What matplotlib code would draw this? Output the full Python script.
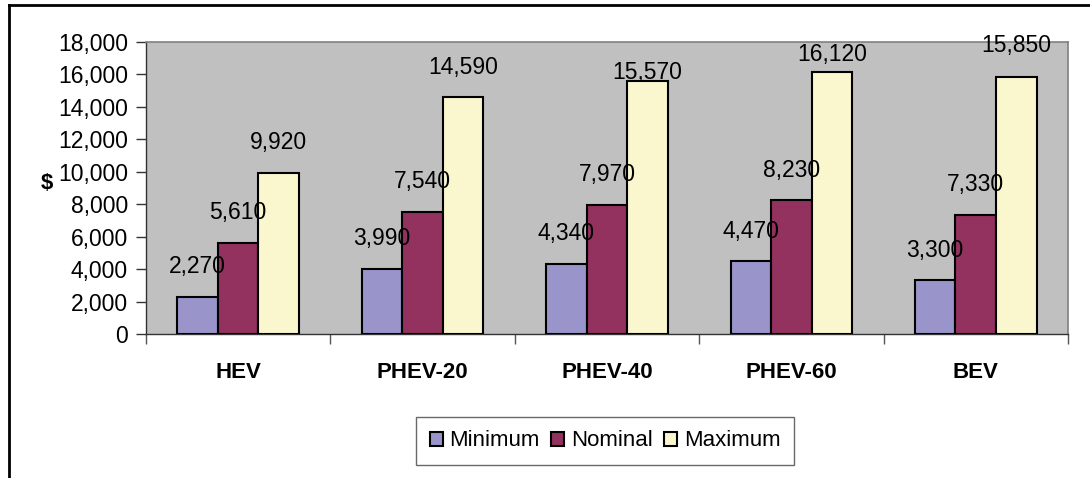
import matplotlib
matplotlib.use("Agg")
from matplotlib import pyplot as plt
from matplotlib.lines import Line2D
from matplotlib.ticker import FuncFormatter
import numpy as np

plt.rcParams['font.family'] = ['Liberation Sans', 'DejaVu Sans']

# data
categories = ['HEV', 'PHEV-20', 'PHEV-40', 'PHEV-60', 'BEV']
minimum = [2270, 3990, 4340, 4470, 3300]
nominal = [5610, 7540, 7970, 8230, 7330]
maximum = [9920, 14590, 15570, 16120, 15850]
series_names = ['Minimum', 'Nominal', 'Maximum']
colors = ['#9995CA', '#93315F', '#FAF7CF']

# label gap above bars (points); the Excel original squeezes a couple of the tall ones
label_gap = [[13.5] * 5, [13.5] * 5, [13.5, 13.5, -2, 4.5, 14]]

fig = plt.figure(figsize=(10.9, 4.78), dpi=100)
ax = fig.add_axes([0.1339, 0.3013, 0.8459, 0.6109])
ax.set_facecolor('#C0C0C0')

x = np.arange(len(categories))
w = 0.22
for i, (vals, name, c) in enumerate(zip([minimum, nominal, maximum], series_names, colors)):
    pos = x + (i - 1) * w
    ax.bar(pos, vals, w, color=c, edgecolor='black', linewidth=1.5, label=name, zorder=3)
    for px, v, g in zip(pos, vals, label_gap[i]):
        ax.annotate(f'{v:,}', (px, v), xytext=(0, g), textcoords='offset points',
                    ha='center', va='bottom', fontsize=16.5, zorder=6)

ax.set_xlim(-0.5, len(categories) - 0.5)
ax.set_ylim(0, 18000)
ax.set_yticks(range(0, 18001, 2000))
ax.yaxis.set_major_formatter(FuncFormatter(lambda v, p: f'{int(v):,}'))
ax.tick_params(axis='y', labelsize=16.5, length=7, width=1, color='#333333', pad=6)

ax.set_xticks(x)
ax.set_xticklabels(categories, fontsize=16, fontweight='bold')
ax.tick_params(axis='x', which='major', length=0, pad=20)
ax.set_xticks(np.arange(-0.5, len(categories)), minor=True)
ax.tick_params(axis='x', which='minor', length=7, width=1, color='#555555')

for side in ['top', 'right']:
    ax.spines[side].set_color('#808080')
    ax.spines[side].set_linewidth(1.2)
for side in ['left', 'bottom']:
    ax.spines[side].set_color('#333333')
    ax.spines[side].set_linewidth(1)

ax.set_ylabel('$', fontsize=16, fontweight='bold', rotation=0)
ax.yaxis.set_label_coords(-0.107, 0.48)

leg = fig.legend(loc='center', bbox_to_anchor=(605 / 1090, 1 - 441 / 478), ncol=3,
                 fontsize=16, frameon=True, fancybox=False, edgecolor='#444444',
                 handlelength=0.6, handleheight=0.6, handletextpad=0.3,
                 columnspacing=0.5, borderpad=0.62, borderaxespad=0)
leg.get_frame().set_linewidth(1)

# outer chart border (left and top edges visible)
fig.add_artist(Line2D([9 / 1090, 9 / 1090], [0, 1 - 5 / 478], transform=fig.transFigure,
                      color='black', linewidth=2))
fig.add_artist(Line2D([9 / 1090, 1], [1 - 5 / 478, 1 - 5 / 478], transform=fig.transFigure,
                      color='black', linewidth=2))

fig.savefig('out.png', dpi=100)
